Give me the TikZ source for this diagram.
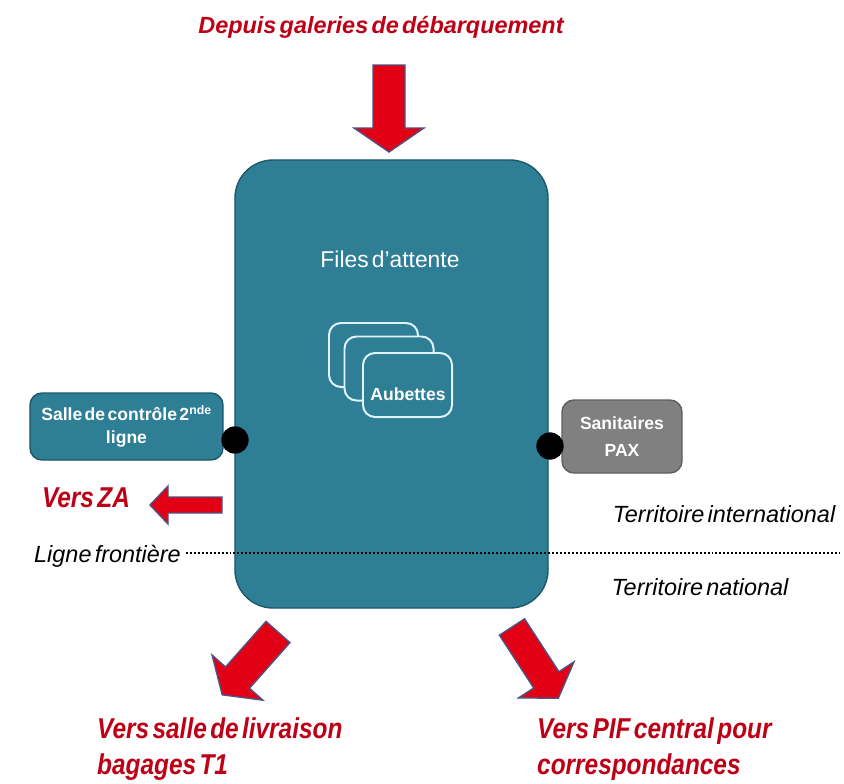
\documentclass[tikz,border=0pt]{standalone}
\usepackage{fontspec}
\setmainfont{Liberation Sans}[WordSpace=0.5]
\newfontfamily\etroit{Liberation Sans}[FakeStretch=0.85, WordSpace=0.5]
\usetikzlibrary{positioning}

\definecolor{sarcelle}{RGB}{46,126,149}
\definecolor{sarcellefonce}{RGB}{30,88,105}
\definecolor{rougetexte}{RGB}{190,0,22}
\definecolor{rougefleche}{RGB}{225,0,20}
\definecolor{bordfleche}{RGB}{80,82,132}
\definecolor{grisboite}{RGB}{128,128,128}
\definecolor{grisbord}{RGB}{96,96,96}
\definecolor{blancbleu}{RGB}{222,244,250}

% bloc-fleche : x, y de la queue, angle, longueur, demi-corps, demi-tete, longueur de tete
\newcommand{\fleche}[7]{%
  \draw[flechebloc, shift={(#1,#2)}, rotate=#3]
    (0,-#5) -- ({#4-#7},-#5) -- ({#4-#7},-#6) -- (#4,0)
    -- ({#4-#7},#6) -- ({#4-#7},#5) -- (0,#5) -- cycle;}

\begin{document}
\begin{tikzpicture}[x=0.03cm, y=-0.03cm,
    flechebloc/.style={fill=rougefleche, draw=bordfleche, line width=1.2pt, line join=miter},
    boite/.style={draw=sarcellefonce, fill=sarcelle, line width=1.2pt, rounded corners=0.36cm},
    aubette/.style={draw=blancbleu, fill=sarcelle, line width=1.7pt, rounded corners=0.36cm,
      minimum width=2.67cm, minimum height=1.92cm},
    point/.style={circle, fill=black, minimum size=0.82cm, inner sep=0pt},
    texteblanc/.style={text=white, inner sep=0pt},
    texterouge/.style={text=rougetexte, inner sep=0pt, font=\etroit\bfseries\itshape\fontsize{24.5}{31.5}\selectfont},
    textenoir/.style={inner sep=0pt, font=\itshape\fontsize{20}{24}\selectfont},
    frontiere/.style={line width=2pt, dash pattern=on 1.7pt off 1.7pt}]
  \useasboundingbox (0,0) rectangle (844,783);

  % ---------------- arrivee ----------------
  \node[anchor=base, text=rougetexte, inner sep=0pt,
    font=\bfseries\itshape\fontsize{20}{24}\selectfont] (depuis) at (381,33) {Depuis galeries de débarquement};
  \fleche{389}{65}{-90}{87}{16}{35}{24}

  % ---------------- zone des files ----------------
  \node[boite, rounded corners=1.14cm, minimum width=9.39cm, minimum height=13.44cm] (files) at (391.5,384) {};
  \node[texteblanc, anchor=base, font=\fontsize{19.5}{22}\selectfont] (filestxt) at (390,267) {Files d'attente};
  \node[aubette] (aub1) at (373.5,355) {};
  \node[aubette] (aub2) at (389,368.5) {};
  \node[aubette] (aub3) at (407.5,385) {};
  \node[texteblanc, anchor=base, font=\bfseries\fontsize{15}{18}\selectfont] (aubtxt) at (408,400) {Aubettes};

  % ---------------- locaux lateraux ----------------
  \node[boite, minimum width=5.79cm, minimum height=2.01cm, align=center, text=white,
    font=\bfseries\fontsize{15}{20}\selectfont] (salle) at (126.5,426.5) {Salle de contrôle 2\textsuperscript{nde}\\ligne};
  \node[boite, draw=grisbord, fill=grisboite, minimum width=3.6cm, minimum height=2.19cm, align=center, text=white,
    font=\bfseries\fontsize{15}{23}\selectfont] (sanit) at (622,436.5) {Sanitaires\\PAX};
  \node[point] (pt-salle) at (235,440) {};
  \node[point] (pt-sanit) at (550,446) {};

  % ---------------- sortie ZA ----------------
  \node[texterouge, anchor=base] (versza) at (86,507) {Vers ZA};
  \fleche{222}{505}{180}{72}{8}{19}{18}

  % ---------------- frontiere ----------------
  \node[textenoir, anchor=base] (inter) at (724,522) {Territoire international};
  \node[textenoir, anchor=base] (natio) at (700,595) {Territoire national};
  \node[textenoir, anchor=base east] (ligne) at (181,562) {Ligne frontière};
  \coordinate (fr-fin) at (840,553);
  \draw[frontiere] ([xshift=4pt]ligne.east |- fr-fin) -- (fr-fin);

  % ---------------- sorties ----------------
  \fleche{278}{632}{-131.6}{84}{16}{34}{23}
  \fleche{512}{627}{-57}{85}{15}{33}{22}
  \node[texterouge, anchor=north west, align=left] (livraison) at (97,717) {Vers salle de livraison\\bagages T1};
  \node[texterouge, anchor=north west, align=left] (pif) at (537,717) {Vers PIF central pour\\correspondances};
\end{tikzpicture}
\end{document}
